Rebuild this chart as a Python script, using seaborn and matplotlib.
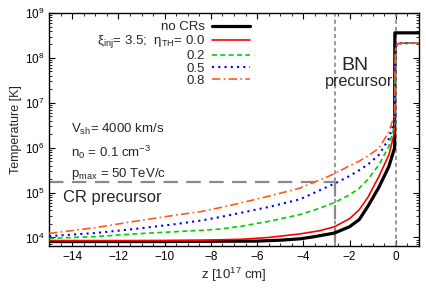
import numpy as np
import pandas as pd
import matplotlib
matplotlib.use("Agg")
import matplotlib.pyplot as plt
import seaborn as sns
from matplotlib.ticker import MultipleLocator, LogLocator, NullFormatter

sns.set_style("ticks")
plt.rcParams['font.family'] = ['Liberation Sans', 'DejaVu Sans']
plt.rcParams['mathtext.fontset'] = 'custom'
plt.rcParams['mathtext.rm'] = 'Liberation Sans'
plt.rcParams['mathtext.it'] = 'Liberation Sans:italic'

# ---- data (z in 1e17 cm, log10 T in K) ----
z_black = [-15, -10, -6, -5, -4.15, -3.5, -2.65, -2, -1.58, -1.2, -0.73, -0.3, -0.05, -0.04, 1.0]
logT_black = [3.91, 3.91, 3.92, 3.94, 3.97, 4.02, 4.10, 4.24, 4.40, 4.70, 5.12, 5.58, 6.0, 8.56, 8.56]

z_col = [-15, -13, -11.3, -9.5, -8.4, -7.56, -6.7, -5.5, -4.15, -3.3, -2.65, -2, -1.58, -1.2, -0.73, -0.3, -0.05,
         -0.03, 0.0, 0.1, 0.3, 1.0]
logT_red = [3.93, 3.93, 3.93, 3.935, 3.94, 3.95, 3.96, 4.0, 4.08, 4.15, 4.24, 4.42, 4.62, 4.9, 5.36, 5.84, 6.35,
            7.9, 8.25, 8.32, 8.33, 8.33]
logT_green = [3.98, 4.02, 4.08, 4.13, 4.16, 4.19, 4.25, 4.36, 4.51, 4.65, 4.78, 4.95, 5.1, 5.3, 5.62, 6.03, 6.5,
              7.9, 8.25, 8.32, 8.33, 8.33]
logT_blue = [4.03, 4.1, 4.19, 4.3, 4.38, 4.46, 4.55, 4.68, 4.85, 5.05, 5.2, 5.37, 5.5, 5.63, 5.84, 6.2, 6.62,
             7.9, 8.25, 8.32, 8.33, 8.33]
logT_orange = [4.09, 4.22, 4.36, 4.5, 4.58, 4.67, 4.77, 4.92, 5.1, 5.28, 5.42, 5.6, 5.7, 5.82, 5.99, 6.35, 6.75,
               7.9, 8.25, 8.32, 8.33, 8.33]

labels = ["no CRs", r"ξ$_{\rm inj}$= 3.5;  η$_{\rm TH}$= 0.0", "0.2", "0.5", "0.8"]

bn_bounds = [-2.65, 0.0]
cr_T = 1.7e5
cr_z = [-15, -2.65]
ylim = (6.5e3, 1e9)
xlim = (-15, 1)

series = [
    (z_black, logT_black, labels[0], "black", "-", 2.3),
    (z_col, logT_red, labels[1], "#ff0000", "-", 1.2),
    (z_col, logT_green, labels[2], "#00d000", (0, (3, 2)), 1.2),
    (z_col, logT_blue, labels[3], "#0000ff", (0, (1, 2)), 1.5),
    (z_col, logT_orange, labels[4], "#ff5a1e", (0, (5, 2, 1, 2)), 1.2),
]

fig = plt.figure(figsize=(4.27, 2.91), dpi=100)
ax = fig.add_axes([0.115, 0.155, 0.866, 0.80])

# boundary lines
for zb in bn_bounds:
    ax.axvline(zb, color="#888888", ls=(0, (2.5, 1.8)), lw=1.2, zorder=1)
ax.plot(cr_z, [cr_T, cr_T], color="#8a8a8a", ls=(0, (6.5, 3.8)), lw=1.6, zorder=1)
ax.plot([cr_z[1], cr_z[1]], [cr_T, ylim[0]], color="#8a8a8a", ls=(0, (6.5, 3.8)), lw=1.6, zorder=1)

for z, lt, lab, c, ls, lw in series:
    df = pd.DataFrame({"z": z, "T": np.power(10.0, lt)})
    sns.lineplot(data=df, x="z", y="T", ax=ax, color=c, lw=lw, linestyle=ls,
                 label=lab, sort=False, estimator=None, zorder=3)

ax.set_yscale("log")
ax.set_xlim(*xlim)
ax.set_ylim(*ylim)
ax.xaxis.set_major_locator(MultipleLocator(2))
ax.xaxis.set_minor_locator(MultipleLocator(0.5))
ax.yaxis.set_major_locator(LogLocator(base=10, numticks=10))
ax.yaxis.set_minor_locator(LogLocator(base=10, subs=np.arange(2, 10), numticks=20))
ax.yaxis.set_minor_formatter(NullFormatter())
ax.tick_params(which="both", direction="in", top=True, right=True, labelsize=8.5, colors="black")
ax.tick_params(which="major", length=4, width=0.8)
ax.tick_params(which="minor", length=2, width=0.6)
for s in ax.spines.values():
    s.set_linewidth(1.0)
    s.set_color("black")

ax.set_xlabel(r"z [10$^{17}$ cm]", fontsize=9.5, labelpad=2)
ax.set_ylabel("Temperature [K]", fontsize=9, labelpad=2)

leg = ax.legend(loc="upper right", bbox_to_anchor=(0.565, 1.0), frameon=False, markerfirst=False,
                fontsize=9.5, handlelength=2.9, handletextpad=0.5, labelspacing=0.0, borderaxespad=0.2)

ax.text(0.06, 0.50, r"V$_{\rm sh}$= 4000 km/s", transform=ax.transAxes, fontsize=9.5, va="center")
ax.text(0.06, 0.40, r"n$_0$ = 0.1 cm$^{-3}$", transform=ax.transAxes, fontsize=9.5, va="center")
ax.text(0.06, 0.31, r"p$_{\rm max}$ = 50 TeV/c", transform=ax.transAxes, fontsize=9.5, va="center")
ax.text(0.038, 0.21, "CR precursor", transform=ax.transAxes, fontsize=11.9, va="center")
ax.text(0.827, 0.775, "BN", transform=ax.transAxes, fontsize=14, va="center", ha="center")
ax.text(0.838, 0.705, "precursor", transform=ax.transAxes, fontsize=11.6, va="center", ha="center")

fig.savefig("out.png", dpi=100)
